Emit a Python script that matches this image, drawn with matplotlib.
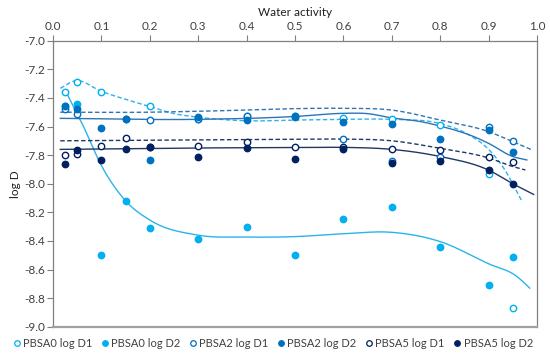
import numpy as np
import matplotlib
matplotlib.use("Agg")
import matplotlib.pyplot as plt
from matplotlib.lines import Line2D

plt.rcParams['font.family'] = ['Lato', 'DejaVu Sans']
plt.rcParams['axes.unicode_minus'] = False

# ---- data ----
aw = [0.025, 0.05, 0.1, 0.15, 0.2, 0.3, 0.4, 0.5, 0.6, 0.7, 0.8, 0.9, 0.95]
nan = np.nan
pbsa0_d1 = [-7.36, -7.29, -7.36, nan, -7.46, -7.55, -7.53, -7.53, -7.54, -7.55, -7.59, -7.93, -8.87]
pbsa0_d2 = [-7.46, -7.44, -8.50, -8.12, -8.31, -8.39, -8.30, -8.50, -8.25, -8.16, -8.44, -8.71, -8.51]
pbsa2_d1 = [-7.48, -7.51, nan, -7.545, -7.555, -7.55, -7.53, -7.53, -7.69, -7.84, -7.81, -7.60, -7.70]
pbsa2_d2 = [-7.46, -7.48, -7.61, -7.545, -7.834, -7.531, -7.555, -7.531, -7.571, -7.585, -7.687, -7.625, -7.78]
pbsa5_d1 = [-7.80, -7.79, -7.736, -7.68, -7.746, -7.736, -7.71, -7.741, -7.741, -7.755, -7.764, -7.81, -7.848]
pbsa5_d2 = [-7.86, -7.764, -7.834, -7.76, -7.746, -7.816, -7.753, -7.83, -7.76, -7.857, -7.84, -7.907, -8.002]

# trend-line knots
t0_d1_x = [0.015, 0.046, 0.1, 0.15, 0.2, 0.25, 0.3, 0.4, 0.5, 0.6, 0.7, 0.8, 0.855, 0.9, 0.931, 0.97]
t0_d1_y = [-7.333, -7.28, -7.355, -7.41, -7.46, -7.51, -7.535, -7.56, -7.555, -7.55, -7.55, -7.58, -7.65, -7.76, -7.89, -8.13]
t0_d2_x = [0.025, 0.063, 0.098, 0.15, 0.2, 0.3, 0.4, 0.5, 0.6, 0.7, 0.8, 0.9, 0.959, 0.985]
t0_d2_y = [-7.345, -7.60, -7.86, -8.12, -8.254, -8.36, -8.373, -8.37, -8.35, -8.34, -8.405, -8.56, -8.65, -8.73]
t2_d1_x = [0.015, 0.2, 0.25, 0.4, 0.5, 0.6, 0.7, 0.8, 0.9, 0.95, 0.99]
t2_d1_y = [-7.50, -7.50, -7.497, -7.485, -7.475, -7.473, -7.485, -7.555, -7.636, -7.706, -7.764]
t2_d2_x = [0.015, 0.3, 0.5, 0.6, 0.65, 0.7, 0.76, 0.8, 0.876, 0.9, 0.95, 0.979]
t2_d2_y = [-7.543, -7.55, -7.53, -7.508, -7.51, -7.54, -7.566, -7.597, -7.68, -7.718, -7.81, -7.834]
t5_d1_x = [0.015, 0.5, 0.6, 0.7, 0.8, 0.9, 0.95, 0.976]
t5_d1_y = [-7.70, -7.69, -7.688, -7.70, -7.753, -7.82, -7.88, -7.904]
t5_d2_x = [0.015, 0.3, 0.5, 0.6, 0.7, 0.8, 0.9, 0.95, 0.993]
t5_d2_y = [-7.76, -7.75, -7.748, -7.746, -7.76, -7.81, -7.905, -8.0, -8.075]

labels = ['PBSA0 log D1', 'PBSA0 log D2', 'PBSA2 log D1', 'PBSA2 log D2', 'PBSA5 log D1', 'PBSA5 log D2']
c_light, c_mid, c_dark = '#00B0F0', '#0070C0', '#002060'
l_light, l_mid, l_dark = '#2AB4EC', '#2E75B6', '#203864'


def smooth(xk, yk, n=300):
    xk = np.asarray(xk, float); yk = np.asarray(yk, float)
    h = np.diff(xk); d = np.diff(yk) / h
    m = np.empty_like(yk)
    m[0] = d[0]; m[-1] = d[-1]
    m[1:-1] = (d[:-1] * h[1:] + d[1:] * h[:-1]) / (h[:-1] + h[1:])
    xs = np.linspace(xk[0], xk[-1], n)
    idx = np.clip(np.searchsorted(xk, xs) - 1, 0, len(h) - 1)
    t = (xs - xk[idx]) / h[idx]
    h00 = 2*t**3 - 3*t**2 + 1; h10 = t**3 - 2*t**2 + t
    h01 = -2*t**3 + 3*t**2; h11 = t**3 - t**2
    ys = h00*yk[idx] + h10*h[idx]*m[idx] + h01*yk[idx+1] + h11*h[idx]*m[idx+1]
    return xs, ys


fig = plt.figure(figsize=(5.5, 3.56), dpi=100)
ax = fig.add_axes([53/550, 1-326.7/356, (537-53)/550, (326.7-40.7)/356])

dash = (0, (3.2, 1.8))
lw = 1.0
for (kx, ky), col, ls in [((t0_d1_x, t0_d1_y), l_light, dash), ((t0_d2_x, t0_d2_y), l_light, '-'),
                          ((t2_d1_x, t2_d1_y), l_mid, dash), ((t2_d2_x, t2_d2_y), l_mid, '-'),
                          ((t5_d1_x, t5_d1_y), l_dark, dash), ((t5_d2_x, t5_d2_y), l_dark, '-')]:
    xs, ys = smooth(kx, ky)
    ax.plot(xs, ys, color=col, lw=lw, linestyle=ls, zorder=2)

ms = 4.6
series = [(pbsa0_d1, c_light, False), (pbsa0_d2, c_light, True),
          (pbsa2_d1, c_mid, False), (pbsa2_d2, c_mid, True),
          (pbsa5_d1, c_dark, False), (pbsa5_d2, c_dark, True)]
handles = []
for (vals, col, filled), lab in zip(series, labels):
    ax.plot(aw, vals, linestyle='none', marker='o', markersize=ms,
            markerfacecolor=col if filled else 'white', markeredgecolor=col,
            markeredgewidth=1.0, zorder=3)
    handles.append(Line2D([], [], linestyle='none', marker='o', markersize=4.0,
                          markerfacecolor=col if filled else 'white', markeredgecolor=col,
                          markeredgewidth=0.9, label=lab))

ax.set_xlim(0, 1.0)
ax.set_ylim(-9.0, -7.0)
ax.set_xticks(np.arange(0, 1.01, 0.1))
ax.set_yticks(np.arange(-9.0, -6.99, 0.2))
ax.xaxis.set_major_formatter(matplotlib.ticker.FormatStrFormatter('%.1f'))
ax.yaxis.set_major_formatter(matplotlib.ticker.FormatStrFormatter('%.1f'))
ax.xaxis.tick_top()
ax.xaxis.set_label_position('top')
ax.tick_params(axis='both', labelsize=8.5, colors='#404040', length=4, width=0.8, color='#808080')
ax.tick_params(axis='x', pad=2)
ax.tick_params(axis='y', pad=2)
for s in ax.spines.values():
    s.set_color('#808080'); s.set_linewidth(0.9)
ax.spines['bottom'].set_linewidth(1.6)
ax.spines['bottom'].set_color('#A0A0A0')
ax.set_xlabel('Water activity', fontsize=8.5, color='#202020', labelpad=4)
ax.set_ylabel('log D', fontsize=8.5, color='#202020', labelpad=2)

fig.legend(handles=handles, loc='center', bbox_to_anchor=(0.495, 0.036), ncol=6, frameon=False,
           fontsize=8.0, handletextpad=0.1, columnspacing=0.7, handlelength=0.9,
           labelcolor='#404040', borderpad=0)

fig.savefig('out.png', dpi=100)
